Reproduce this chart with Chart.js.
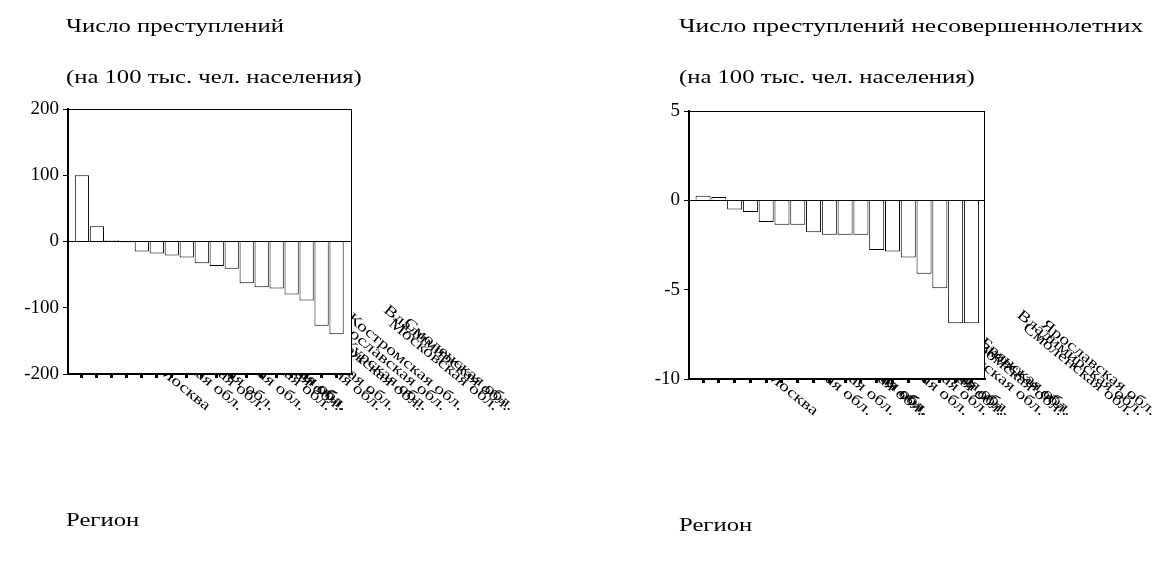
<!DOCTYPE html>
<html>
<head>
<meta charset="utf-8">
<title>Число преступлений по регионам</title>
<script src="https://cdn.jsdelivr.net/npm/chart.js@4/dist/chart.umd.min.js"></script>
<style>
	body { margin: 0; background: #fff; width: 1156px; height: 573px; position: relative; overflow: hidden; }
	canvas { position: absolute; top: 0; }
	.txt {
		position: absolute;
		font-family: "Liberation Serif", "DejaVu Serif", serif;
		font-size: 18px;
		line-height: 1;
		white-space: nowrap;
		transform: scaleX(1.37);
		transform-origin: left top;
		color: #000;
	}
</style>
</head>
<body>
	<canvas id="crimeCanvas" width="578" height="573" style="left:0"></canvas>
	<canvas id="juvCanvas" width="578" height="573" style="left:578px"></canvas>

	<div class="txt" style="left:66px; top:17px">Число преступлений</div>
	<div class="txt" style="left:66px; top:68px">(на 100 тыс. чел. населения)</div>
	<div class="txt" style="left:679px; top:17px; transform: scaleX(1.42)">Число преступлений несовершеннолетних</div>
	<div class="txt" style="left:679px; top:68px">(на 100 тыс. чел. населения)</div>
	<div class="txt" style="left:66px; top:511px">Регион</div>
	<div class="txt" style="left:679px; top:516px">Регион</div>
<script>

// левый график: число преступлений (отклонения), по убыванию
var crimeRegions = ['Белгородская обл.', 'Тульская обл.', 'Липецкая обл.', 'Москва', 'Орловская обл.',
	'Тамбовская обл.', 'Ивановская обл.', 'Рязанская обл.', 'Тверская обл.', 'Калужская обл.',
	'Воронежская обл.', 'Брянская обл.', 'Ярославская обл.', 'Костромская обл.', 'Курская обл.',
	'Владимирская обл.', 'Московская обл.', 'Смоленская обл.'];
var crimeValues = [100, 23, 2, -1, -15, -18, -21, -24, -33, -37, -41, -63, -69, -71, -80, -89, -127, -140];
var crimeTicks = {min: -200, max: 200, step: 100};

// правый график: число преступлений несовершеннолетних
var juvRegions = ['Белгородская обл.', 'Липецкая обл.', 'Москва', 'Тамбовская обл.', 'Орловская обл.',
	'Тульская обл.', 'Воронежская обл.', 'Рязанская обл.', 'Ивановская обл.', 'Калужская обл.',
	'Тверская обл.', 'Костромская обл.', 'Московская обл.', 'Курская обл.', 'Брянская обл.',
	'Владимирская обл.', 'Смоленская обл.', 'Ярославская обл.'];
var juvValues = [0.26, 0.19, -0.52, -0.65, -1.21, -1.36, -1.36, -1.79, -1.93, -1.93, -1.93, -2.78, -2.86, -3.2, -4.11, -4.92, -6.88, -6.88];
var juvTicks = {min: -10, max: 5, step: 5};

var SERIF = '"Liberation Serif", "DejaVu Serif", serif';
var STRETCH = 1.3;
var ANGLE = 39 * Math.PI / 180;

// подписи регионов наклонные, рисуем сами; область графика закрывает их белым
var slantLabels = {
	id: 'slantLabels',
	beforeDraw: function(chart) {
		var ctx = chart.ctx, area = chart.chartArea, xs = chart.scales.x;
		ctx.save();
		ctx.font = '15px ' + SERIF;
		ctx.fillStyle = '#000';
		chart.data.labels.forEach(function(lab, i) {
			var w = ctx.measureText(lab).width * STRETCH;
			var ex = xs.getPixelForValue(i + 1) + 1.62 * w * Math.cos(ANGLE);
			var ey = area.bottom + 37;
			ctx.save();
			ctx.translate(ex, ey);
			ctx.rotate(ANGLE);
			ctx.scale(STRETCH, 1);
			ctx.textAlign = 'right';
			ctx.textBaseline = 'alphabetic';
			ctx.fillText(lab, 0, 0);
			ctx.restore();
		});
		ctx.fillStyle = '#fff';
		ctx.fillRect(area.left, area.top, area.right - area.left, area.bottom - area.top);
		ctx.strokeStyle = '#000';
		ctx.lineWidth = 1;
		ctx.strokeRect(area.left + 0.5, area.top + 0.5, area.right - area.left - 1, area.bottom - area.top - 1);
		ctx.restore();
	}
};

function makeChart(id, labels, values, ticks, box) {
	var ctx = document.getElementById(id).getContext('2d');
	var points = values.map(function(v, i) { return {x: i + 1, y: v}; });
	return new Chart(ctx, {
		type: 'bar',
		data: {
			labels: labels,
			datasets: [{
				data: points,
				backgroundColor: '#fff',
				borderColor: '#000',
				borderWidth: 1,
				barPercentage: 0.95,
				categoryPercentage: 1.0
			}]
		},
		options: {
			responsive: false,
			animation: false,
			layout: {padding: {left: 0, top: box.top, right: box.right, bottom: 0}},
			plugins: {legend: {display: false}, tooltip: {enabled: false}},
			scales: {
				x: {
					type: 'linear',
					offset: false,
					min: box.xmin,
					max: box.xmax,
					grid: {offset: false, drawOnChartArea: false, drawTicks: true, tickLength: 4, tickWidth: 3, tickColor: '#000'},
					border: {color: '#000', width: 2},
					ticks: {display: false},
					afterBuildTicks: function(scale) {
						scale.ticks = labels.map(function(l, i) { return {value: i + 1}; });
					},
					afterFit: function(scale) { scale.height = box.xh; }
				},
				y: {
					min: ticks.min,
					max: ticks.max,
					grid: {
						color: function(c) { return c.tick && c.tick.value === 0 ? '#000' : 'rgba(0,0,0,0)'; },
						tickColor: '#000',
						tickLength: 5,
						lineWidth: 1
					},
					border: {color: '#000', width: 2},
					ticks: {
						stepSize: ticks.step,
						padding: 4,
						color: '#000',
						font: {family: SERIF, size: 19}
					},
					afterFit: function(scale) { scale.width = box.yw; }
				}
			}
		},
		plugins: [slantLabels]
	});
}

window.onload = function() {
	window.crimeBar = makeChart('crimeCanvas', crimeRegions, crimeValues, crimeTicks,
		{top: 109, right: 226, xh: 199, yw: 68, xmin: 0.07, xmax: 19.03});
	window.juvBar = makeChart('juvCanvas', juvRegions, juvValues, juvTicks,
		{top: 111, right: 171, xh: 194, yw: 111, xmin: 0.11, xmax: 18.86});
};

</script>
</body>
</html>
